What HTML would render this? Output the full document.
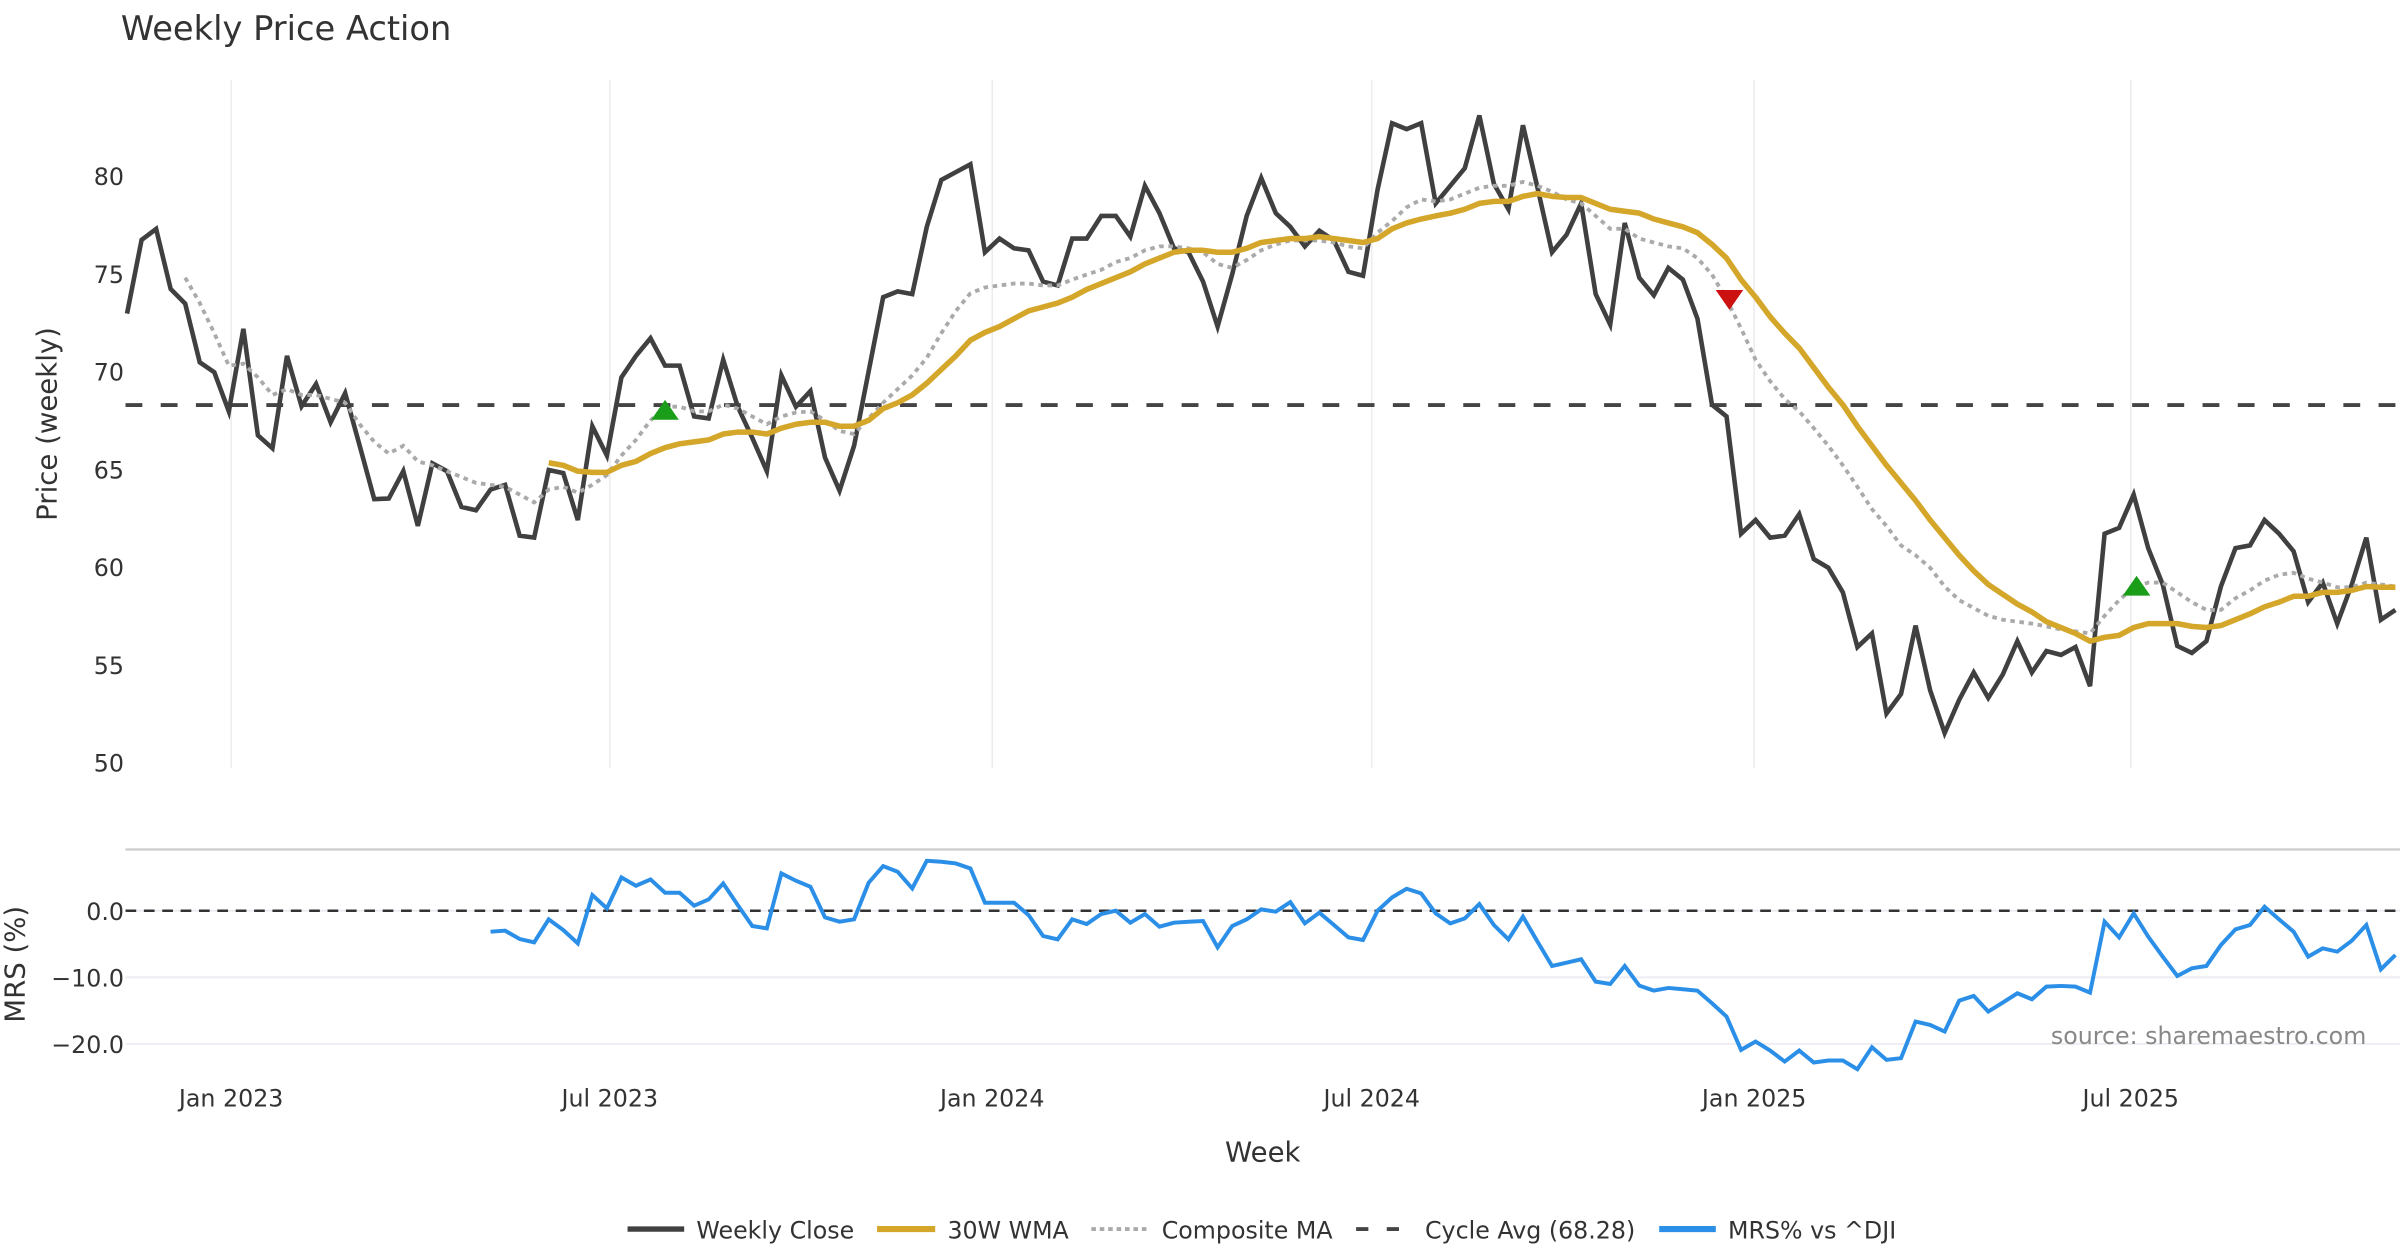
<!DOCTYPE html>
<html><head><meta charset="utf-8"><style>
html,body{margin:0;padding:0;background:#fff;}
svg{display:block;font-family:"DejaVu Sans","Liberation Sans",sans-serif;}
</style></head><body>
<svg id="chart" width="2400" height="1260" viewBox="0 0 1568 823.2" xmlns="http://www.w3.org/2000/svg">
<rect x="0" y="0" width="1568" height="823.2" fill="#fff"/>
<text x="79" y="26" font-size="22" fill="#333">Weekly Price Action</text>
<g id="grid"></g>
<g id="price"></g>
<g id="mrs"></g>
<text transform="translate(37,277) rotate(-90)" text-anchor="middle" font-size="18" fill="#333">Price (weekly)</text>
<text transform="translate(16,630) rotate(-90)" text-anchor="middle" font-size="18" fill="#333">MRS (%)</text>
<text x="825" y="759" text-anchor="middle" font-size="18" fill="#333">Week</text>
<text x="1546" y="682" text-anchor="end" font-size="15.5" fill="#888">source: sharemaestro.com</text>
<g id="legend">
<line x1="410" y1="803" x2="447" y2="803" stroke="#404040" stroke-width="3.5"/>
<text x="455" y="809" font-size="15.5" fill="#333">Weekly Close</text>
<line x1="573" y1="803" x2="611" y2="803" stroke="#D4A62A" stroke-width="4"/>
<text x="619" y="809" font-size="15.5" fill="#333">30W WMA</text>
<line x1="713" y1="803" x2="750" y2="803" stroke="#aaa" stroke-width="2.5" stroke-dasharray="3,2.5"/>
<text x="759" y="809" font-size="15.5" fill="#333">Composite MA</text>
<line x1="886" y1="803" x2="921" y2="803" stroke="#444" stroke-width="2.5" stroke-dasharray="8,12"/>
<text x="931" y="809" font-size="15.5" fill="#333">Cycle Avg (68.28)</text>
<line x1="1084" y1="803" x2="1121" y2="803" stroke="#2b8fe8" stroke-width="4"/>
<text x="1129" y="809" font-size="15.5" fill="#333">MRS% vs ^DJI</text>
</g>
</svg>
<script>
const closeStart = 0;
const closeValues = [72.96,76.73,77.29,74.22,73.47,70.47,69.96,67.96,72.18,66.73,66.07,70.8,68.22,69.36,67.4,68.89,66.2,63.47,63.5,64.9,62.1,65.3,64.9,63.07,62.9,63.96,64.2,61.6,61.5,64.96,64.8,62.4,67.2,65.7,69.7,70.8,71.7,70.3,70.3,67.7,67.6,
70.6,68.2,66.6,64.9,69.8,68.2,69.0,65.6,63.9,66.2,70.0,73.8,74.1,73.96,77.4,79.8,80.2,80.6,76.1,76.8,76.3,76.2,74.6,74.4,76.8,76.8,77.96,77.96,76.9,79.5,78.1,76.3,76.1,74.6,72.3,74.96,77.96,79.9,78.1,77.4,
76.4,77.2,76.7,75.1,74.9,79.3,82.7,82.4,82.7,78.6,79.5,80.4,83.1,79.6,78.3,82.6,79.4,76.1,77.0,78.6,73.96,72.4,77.6,74.8,73.9,75.3,74.7,72.7,68.3,67.7,61.7,62.4,61.5,61.6,62.7,60.4,59.96,58.7,55.9,56.6,52.5,
53.5,57.0,53.7,51.5,53.2,54.6,53.3,54.5,56.2,54.6,55.7,55.5,55.9,53.9,61.7,62.0,63.7,60.96,59.1,55.96,55.6,56.2,59.0,60.96,61.1,62.4,61.7,60.8,58.2,59.2,57.1,59.1,61.5,57.3,57.8];
const wmaStart = 29;
const wmaValues = [65.33,65.2,64.9,64.84,64.84,65.2,65.4,65.8,66.1,66.3,66.4,66.5,
66.8,66.9,66.9,66.8,67.1,67.3,67.4,67.4,67.2,67.2,67.5,68.1,68.4,68.8,69.4,70.1,70.8,71.6,72.0,72.3,72.7,73.1,73.3,73.5,73.8,74.2,74.5,74.8,75.1,75.5,75.8,76.1,76.2,76.2,76.1,76.1,76.3,76.6,76.7,76.8,
76.8,76.9,76.8,76.7,76.6,76.8,77.3,77.6,77.8,77.96,78.1,78.3,78.6,78.7,78.7,78.96,79.1,78.96,78.9,78.9,78.6,78.3,78.2,78.1,77.8,77.6,77.4,77.1,76.5,75.8,74.7,73.8,72.8,71.96,71.2,70.2,69.2,68.3,67.2,66.2,65.2,
64.3,63.4,62.4,61.5,60.6,59.8,59.1,58.6,58.1,57.7,57.2,56.9,56.6,56.2,56.4,56.5,56.9,57.1,57.1,57.1,56.96,56.9,57.0,57.3,57.6,57.96,58.2,58.5,58.5,58.7,58.7,58.8,59.0,58.96,58.96];
const compStart = 4;
const compValues = [74.8,73.5,71.96,70.3,70.4,69.7,68.8,69.1,68.8,68.8,68.6,68.4,67.3,66.4,65.8,66.2,65.4,65.2,64.9,64.6,64.3,64.2,64.1,63.7,63.3,63.96,64.1,63.8,64.2,64.7,65.7,66.5,67.5,68.2,68.2,67.96,67.96,
68.3,68.1,67.7,67.3,67.7,67.9,67.96,67.5,66.96,66.8,67.6,68.4,69.1,69.8,70.7,71.96,73.1,74.0,74.3,74.4,74.5,74.5,74.4,74.4,74.7,74.96,75.2,75.6,75.8,76.2,76.4,76.4,76.3,76.1,75.5,75.3,75.7,76.2,76.5,76.7,
76.7,76.7,76.6,76.4,76.3,77.1,77.7,78.4,78.8,78.7,78.8,79.1,79.4,79.5,79.5,79.7,79.5,79.2,78.8,78.6,77.96,77.3,77.3,76.8,76.6,76.4,76.3,75.8,74.96,73.7,72.2,70.6,69.5,68.6,67.96,67.1,66.2,65.2,64.1,62.96,62.1,
61.1,60.6,59.96,59.0,58.3,57.9,57.5,57.3,57.2,57.1,56.96,56.8,56.7,56.6,57.5,58.3,58.96,59.2,59.2,58.7,58.2,57.8,57.8,58.4,58.8,59.3,59.6,59.7,59.4,59.2,58.96,58.96,59.2,59.1,59.0];
const mrsStart = 25;
const mrsValues = [-3.15,-3.0,-4.25,-4.75,-1.3,-2.9,-4.9,2.35,0.35,5.0,3.75,4.7,2.7,2.7,0.75,1.7,4.1,0.85,-2.3,-2.65,5.6,4.5,3.6,-1.0,-1.65,-1.3,4.2,6.7,5.85,3.35,7.5,7.35,7.1,6.35,1.2,1.2,1.2,-0.65,-3.8,-4.3,-1.3,-2.0,-0.5,0,-1.8,-0.5,-2.4,-1.8,-1.65,-1.55,-5.5,-2.3,-1.3,0.2,-0.15,1.3,-1.9,-0.3,-2.15,-4.0,-4.4,0,2.0,3.3,
2.6,-0.4,-1.9,-1.15,1.0,-2.15,-4.3,-0.9,-4.65,-8.3,-7.8,-7.3,-10.65,-11.0,-8.3,-11.25,-12.0,-11.6,-11.8,-12.0,-13.9,-15.9,-20.9,-19.65,-21.0,-22.65,-21.0,-22.8,-22.5,-22.5,-23.8,-20.5,-22.4,-22.15,-16.65,-17.15,-18.15,-13.5,-12.8,-15.15,-13.8,-12.4,-13.3,-11.4,-11.3,-11.4,-12.3,-1.65,-4.0,-0.4,-3.9,-6.9,-9.8,-8.65,-8.3,-5.15,-2.8,-2.15,0.6,-1.3,-3.15,-6.9,-5.65,-6.15,-4.5,-2.15,-8.8,-6.65];
const cycleAvg = 68.28;
const signalIdx = [37, 110.2, 138.2];
const signalVal = [68.0, 73.7, 59.0];
const signalType = ["buy", "sell", "buy"];
const xTickLabels = ["Jan 2023","Jul 2023","Jan 2024","Jul 2024","Jan 2025","Jul 2025"];
const xTickIdx = [7.16, 33.2, 59.5, 85.6, 111.9, 137.8];
const priceTicks = [50,55,60,65,70,75,80];
const mrsTicks = [0,-10,-20];
const mrsTickLabels = ["0.0","\u221210.0","\u221220.0"];

const NS = "http://www.w3.org/2000/svg";
const X0 = 83, DX = 9.5;
function xs(i){ return X0 + i*DX; }
function yp(v){ return 115 + (80 - v)*12.77; }
function ym(v){ return 595 - v*4.35; }
function mk(tag, attrs, parent){
  const e = document.createElementNS(NS, tag);
  for (const k in attrs) e.setAttribute(k, attrs[k]);
  parent.appendChild(e);
  return e;
}
const grid = document.getElementById('grid');
const price = document.getElementById('price');
const mrs = document.getElementById('mrs');

xTickIdx.forEach((ti, k) => {
  const x = xs(ti);
  const gl = mk('line', {x1:x, y1:52, x2:x, y2:502, stroke:'#ececf0', 'stroke-width':1}, grid);
  
  
  const t = mk('text', {x:x, y:723, 'text-anchor':'middle', 'font-size':15.5, fill:'#333'}, grid);
  t.textContent = xTickLabels[k];
  
  
});
priceTicks.forEach(v => {
  const t = mk('text', {x:81, y:yp(v)+6, 'text-anchor':'end', 'font-size':15.5, fill:'#333'}, grid);
  t.textContent = String(v);
  
  
});
const sep = mk('line', {x1:82, y1:555, x2:1568, y2:555, stroke:'#cccccc', 'stroke-width':1.5}, grid);


mrsTicks.forEach((v, k) => {
  const gl = mk('line', {x1:82, y1:ym(v), x2:1568, y2:ym(v), stroke:'#ececf2', 'stroke-width':1.2}, grid);
  
  
  const t = mk('text', {x:81, y:ym(v)+6, 'text-anchor':'end', 'font-size':15.5, fill:'#333'}, grid);
  t.textContent = mrsTickLabels[k];
  
  
});

function poly(vals, start, yf){
  return vals.map((v, i) => xs(start + i).toFixed(2) + ',' + yf(v).toFixed(2)).join(' ');
}
const ca = mk('line', {x1:82, y1:yp(cycleAvg), x2:1568, y2:yp(cycleAvg), stroke:'#444', 'stroke-width':2.5, 'stroke-dasharray':'11,12'}, price);


const cl = mk('polyline', {points:poly(closeValues, closeStart, yp), fill:'none', stroke:'#404040', 'stroke-width':3, 'stroke-linejoin':'miter'}, price);


const cm = mk('polyline', {points:poly(compValues, compStart, yp), fill:'none', stroke:'#aaaaaa', 'stroke-width':2.5, 'stroke-dasharray':'3,3'}, price);


const wm = mk('polyline', {points:poly(wmaValues, wmaStart, yp), fill:'none', stroke:'#D4A62A', 'stroke-width':3.6, 'stroke-linejoin':'round'}, price);


signalIdx.forEach((si, k) => {
  const x = xs(si), y = yp(signalVal[k]);
  let pts;
  if (signalType[k] === 'buy') pts = `${x-9},${y+6} ${x+9},${y+6} ${x},${y-7}`;
  else pts = `${x-9},${y-6} ${x+9},${y-6} ${x},${y+7}`;
  const m = mk('polygon', {points:pts, fill: signalType[k]==='buy' ? '#1a9e1a' : '#cc1111'}, price);
  
  
});
const z = mk('line', {x1:82, y1:ym(0), x2:1568, y2:ym(0), stroke:'#333', 'stroke-width':1.6, 'stroke-dasharray':'7,5'}, mrs);


const ml = mk('polyline', {points:poly(mrsValues, mrsStart, ym), fill:'none', stroke:'#2b8fe8', 'stroke-width':2.6}, mrs);


</script>
</body></html>
